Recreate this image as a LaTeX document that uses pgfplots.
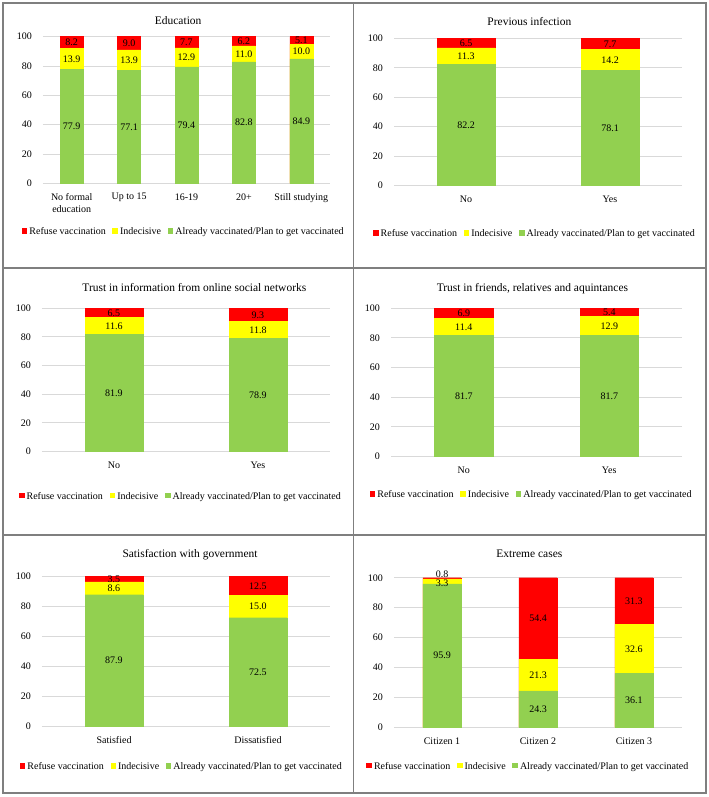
\documentclass[border=0pt]{standalone}
\usepackage{pgfplots}
\pgfplotsset{compat=1.18}
\usepackage{pgfplotstable}
\usepackage{fontspec}
\setmainfont{Liberation Serif}
\definecolor{cRed}{HTML}{FF0000}
\definecolor{cYellow}{HTML}{FFFF00}
\definecolor{cGreen}{HTML}{92D050}
\definecolor{gridGray}{HTML}{D9D9D9}
\definecolor{borderGray}{HTML}{7F7F7F}
\newcommand{\lblfont}{\fontsize{7.5}{9.2}\selectfont}
\newcommand{\ttlfont}{\fontsize{8.6}{10.3}\selectfont}

% acc = already vaccinated/plan, ind = indecisive, ref = refuse
% aof, iof, rof = small vertical nudges of the value labels (axis units)
\pgfplotstableread{
cat acc ind ref aof iof rof
0 77.9 13.9 8.2 0 0 0
1 77.1 13.9 9.0 0 0 0
2 79.4 12.9 7.7 0 0 0
3 82.8 11.0 6.2 0 0 0
4 84.9 10.0 5.1 0 0 0
}\eduData
\pgfplotstableread{
cat acc ind ref aof iof rof
0 82.2 11.3 6.5 0 0 0
1 78.1 14.2 7.7 0 0 0
}\infData
\pgfplotstableread{
cat acc ind ref aof iof rof
0 81.9 11.6 6.5 0 0 0
1 78.9 11.8 9.3 0 0 0
}\snData
\pgfplotstableread{
cat acc ind ref aof iof rof
0 81.7 11.4 6.9 0 0 0
1 81.7 12.9 5.4 0 0 0
}\frData
\pgfplotstableread{
cat acc ind ref aof iof rof
0 87.9 8.6 3.5 0 0 0
1 72.5 15.0 12.5 0 0 0
}\govData
\pgfplotstableread{
cat acc ind ref aof iof rof
0 95.9 3.3 0.8 0 -1.3 2.7
1 24.3 21.3 54.4 0 0 0
2 36.1 32.6 31.3 0 0 0
}\extData

\pgfplotsset{
  panel/.style={
    scale only axis, anchor=north west, clip=false,
    ymin=0, ymax=100, ytick={0,20,...,100},
    ymajorgrids, grid style={draw=gridGray, line width=0.75pt},
    axis line style={draw=none}, major tick length=0pt,
    tick label style={font=\lblfont, text=black},
    /pgf/number format/assume math mode=true,
    yticklabel style={xshift=-4.8pt},
    xticklabel style={yshift=-4pt, align=center},
    title style={font=\ttlfont, text depth=0pt, inner sep=0pt, anchor=south},
    legend columns=3,
    legend style={draw=none, fill=none, anchor=center, font=\lblfont,
      nodes={inner xsep=0pt, inner ysep=1pt},
      /tikz/every odd column/.append style={column sep=2pt},
      /tikz/every even column/.append style={column sep=5pt}},
  },
  mybar/.style={ybar, bar width=0.4, bar shift=0pt, line width=0.3pt,
     legend image code/.code={\fill[##1] (0pt,-0.6pt) rectangle (3.4pt,2.8pt);}},
  lbl/.style={draw=none, mark=none, forget plot, point meta=explicit,
     nodes near coords={\pgfmathprintnumber[fixed,fixed zerofill,precision=1]{\pgfplotspointmeta}},
     every node near coord/.append style={anchor=center, font=\lblfont, text=black, inner sep=0pt}},
}
\newcommand{\stackbars}[1]{%
  \addplot[mybar, fill=cRed, draw=cRed] table[x=cat, y expr=\thisrow{acc}+\thisrow{ind}+\thisrow{ref}] {#1};
  \addplot[mybar, fill=cYellow, draw=cYellow] table[x=cat, y expr=\thisrow{acc}+\thisrow{ind}] {#1};
  \addplot[mybar, fill=cGreen, draw=cGreen] table[x=cat, y=acc] {#1};
  \addplot[lbl] table[x=cat, y expr=\thisrow{acc}/2+\thisrow{aof}, meta=acc] {#1};
  \addplot[lbl] table[x=cat, y expr=\thisrow{acc}+\thisrow{ind}/2+\thisrow{iof}, meta=ind] {#1};
  \addplot[lbl] table[x=cat, y expr=\thisrow{acc}+\thisrow{ind}+\thisrow{ref}/2+\thisrow{rof}, meta=ref] {#1};
  \legend{Refuse vaccination, Indecisive, Already vaccinated/Plan to get vaccinated}
}

\begin{document}
\begin{tikzpicture}
\path[use as bounding box] (0,0) rectangle (531pt,-597.75pt);
\draw[borderGray, line width=0.9pt] (2.25pt,-2.25pt) rectangle (529.5pt,-594.75pt);
\draw[borderGray, line width=0.9pt] (265pt,-2.25pt) -- (265pt,-594.75pt);
\draw[borderGray, line width=0.9pt] (2.25pt,-201pt) -- (529.5pt,-201pt);
\draw[borderGray, line width=0.9pt] (2.25pt,-401.25pt) -- (529.5pt,-401.25pt);

% Panel 1
\begin{axis}[panel, at={(32.25pt,-27.5pt)}, width=215.25pt, height=110pt,
  xmin=-0.5, xmax=4.5, xtick={0,...,4},
  xticklabels={{No formal\\education},{Up to 15},{16-19},{20+},{Still studying}},
  title={Education}, title style={at={(0.471,1)}, yshift=2.8pt},
  legend style={at={(0.487,-0.334)}}]
\stackbars{\eduData}
\end{axis}

% Panel 2
\begin{axis}[panel, at={(295.5pt,-28.7pt)}, width=216pt, height=110.55pt,
  xmin=-0.5, xmax=1.5, xtick={0,1}, xticklabels={No,Yes},
  title={Previous infection}, title style={at={(0.470,1)}, yshift=3.6pt},
  legend style={at={(0.486,-0.330)}}]
\stackbars{\infData}
\end{axis}

% Panel 3
\begin{axis}[panel, at={(31.5pt,-231.2pt)}, width=216pt, height=107.55pt,
  xmin=-0.5, xmax=1.5, xtick={0,1}, xticklabels={No,Yes},
  title={Trust in information from online social networks}, title style={at={(0.529,1)}, yshift=6.45pt},
  legend style={at={(0.479,-0.314)}}]
\stackbars{\snData}
\end{axis}

% Panel 4
\begin{axis}[panel, at={(293.25pt,-231.2pt)}, width=218.25pt, height=111.3pt,
  xmin=-0.5, xmax=1.5, xtick={0,1}, xticklabels={No,Yes},
  title={Trust in friends, relatives and aquintances}, title style={at={(0.486,1)}, yshift=6.45pt},
  legend style={at={(0.480,-0.258)}}]
\stackbars{\frData}
\end{axis}

% Panel 5
\begin{axis}[panel, at={(31.5pt,-432.5pt)}, width=216pt, height=112pt,
  xmin=-0.5, xmax=1.5, xtick={0,1}, xticklabels={Satisfied,Dissatisfied},
  title={Satisfaction with government}, title style={at={(0.514,1)}, yshift=8.25pt},
  legend style={at={(0.482,-0.277)}}]
\stackbars{\govData}
\end{axis}

% Panel 6
\begin{axis}[panel, at={(295.5pt,-433.3pt)}, width=216pt, height=112.2pt,
  xmin=-0.5, xmax=2.5, xtick={0,1,2}, xticklabels={Citizen 1,Citizen 2,Citizen 3},
  title={Extreme cases}, title style={at={(0.470,1)}, yshift=8.8pt},
  legend style={at={(0.463,-0.263)}}]
\stackbars{\extData}
\end{axis}
\end{tikzpicture}
\end{document}
